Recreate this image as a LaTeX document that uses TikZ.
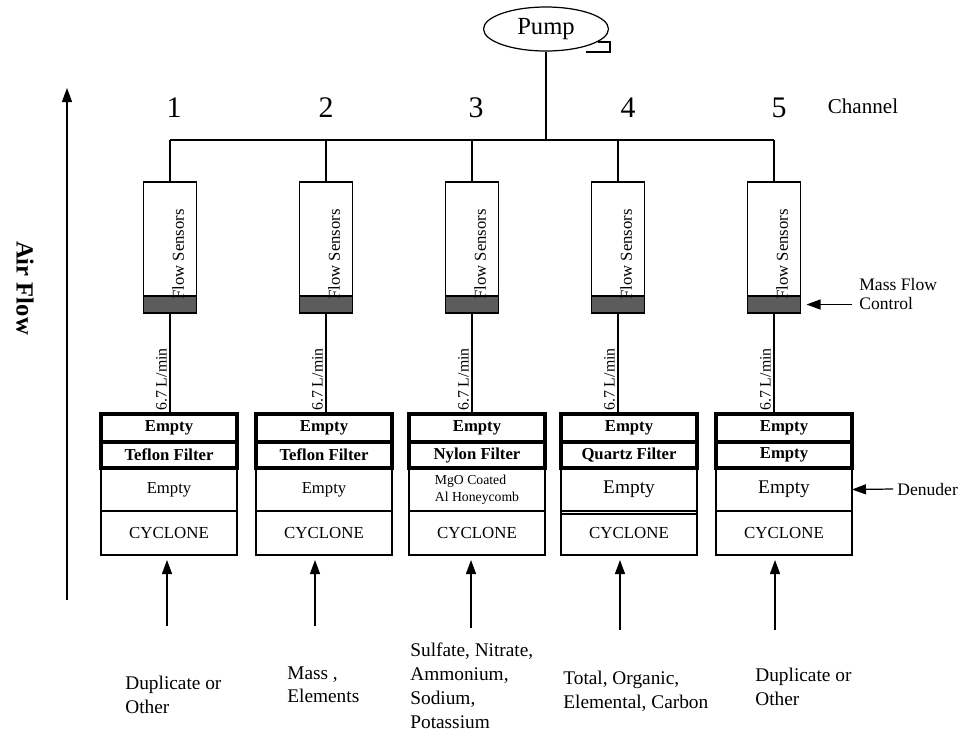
\documentclass[tikz,border=0pt]{standalone}
\usepackage{fontspec}
\setmainfont{Liberation Serif}
\usetikzlibrary{arrows.meta,shapes.geometric}
\definecolor{mfcgray}{RGB}{92,92,92}

\tikzset{
  wire/.style={line width=0.7pt},
  arr/.style={line width=0.7pt, -{Triangle[length=2.8mm,width=2mm]}},
  sensor/.style={draw, line width=0.7pt, minimum width=1.06cm, minimum height=2.28cm, inner sep=0pt, outer sep=0pt},
  mfc/.style={draw, fill=mfcgray, line width=0.7pt, minimum width=1.06cm, minimum height=0.34cm, inner sep=0pt, outer sep=0pt},
  fslbl/.style={rotate=90, anchor=north west, inner sep=0pt, font=\fontsize{9.5}{10}\selectfont},
  flowlbl/.style={pos=1, rotate=90, anchor=south west, inner sep=1.5pt, font=\fontsize{9}{10}\selectfont},
  thickbox/.style={draw, line width=2.2pt, minimum width=2.72cm, inner sep=0pt, outer sep=0pt, font=\fontsize{9.5}{10}\selectfont\bfseries},
  stage/.style={draw, line width=0.7pt, minimum width=2.72cm, inner sep=0pt, outer sep=0pt, align=left},
  chnum/.style={font=\fontsize{17}{20}\selectfont},
  side/.style={inner sep=0pt, align=left, font=\fontsize{10}{10.8}\selectfont},
  result/.style={anchor=north west, inner sep=0pt, align=left, font=\fontsize{11}{13.6}\selectfont},
}

\begin{document}
\begin{tikzpicture}[x=0.02cm, y=-0.02cm]
\useasboundingbox (0,0) rectangle (959,731);

% pump and manifold
\node[draw, ellipse, line width=0.7pt, minimum width=2.5cm, minimum height=0.88cm, inner sep=0pt,
      font=\fontsize{14}{16}\selectfont] (pump) at (546,29) {Pump};
\draw[wire] (598,42) -- (610,42) -- (610,52) -- (586,52);
\coordinate (bus1) at (170,140);
\coordinate (bus5) at (774,140);
\draw[wire] (bus1) -- (bus5);
\draw[wire] (pump.south) -- (pump.south |- bus1);
\node[font=\fontsize{12}{14}\selectfont] (chan) at (863,106) {Channel};

% flow sensors with mass flow control
\foreach \n/\lx/\nx in {1/170/174, 2/326/326, 3/472/476, 4/618/628, 5/774/779}{
  \coordinate (bus\n) at (\lx,140);
  \node[chnum] (num\n) at (\nx,108) {\n};
  \node[sensor] (sen\n) at (\lx,239) {};
  \node[mfc] (mfc\n) at (\lx,304.5) {};
  \node[fslbl] (fs\n) at ([shift={(0.04cm,-0.08cm)}]mfc\n.north) {Flow Sensors};
  \draw[wire] (bus\n) -- (sen\n.north);
}

% filter packs
\foreach \n/\bx/\filt/\fs/\midt in {1/169/Teflon Filter/9.5/Empty, 2/324/Teflon Filter/9.5/Empty,
    3/477/Nylon Filter/7.8/{MgO Coated\\Al Honeycomb}, 4/629/Quartz Filter/11/Empty, 5/784/Empty/11/Empty}{
  \node[stage, minimum height=0.86cm, font=\fontsize{\fs}{9.5}\selectfont] (mid\n) at (\bx,489.5) {\midt};
  \node[stage, minimum height=0.88cm, font=\fontsize{9.6}{11}\selectfont] (cyc\n) at (\bx,533) {CYCLONE};
  \node[thickbox, minimum height=0.56cm] (top\n) at (\bx,428) {Empty};
  \node[thickbox, minimum height=0.52cm] (fil\n) at (\bx,455) {\filt};
  \draw[wire] (mfc\n.south) -- (mfc\n.south |- top\n.north) node[flowlbl] {6.7 L/min};
}
\draw[line width=1.3pt] (mid1.south west) -- (mid1.south east);
\draw[line width=1.3pt] (mid2.south west) -- (mid2.south east);
\draw[wire] ([yshift=-0.06cm]mid4.south west) -- ([yshift=-0.06cm]mid4.south east);

% side notes
\node[side, anchor=west] (mfclbl) at (859,294) {Mass Flow\\Control};
\draw[arr] ([xshift=-0.14cm]mfclbl.west |- mfc5.east) -- ([xshift=0.12cm]mfc5.east);
\node[side, anchor=west] (den) at (897,489) {Denuder};
\draw[arr] ([xshift=-0.08cm]den.west) -- (mid5.east);

% air flow
\coordinate (afbot) at (67,600);
\coordinate (aftop) at (67,88);
\draw[arr] (afbot) -- (aftop);
\node[rotate=-90, font=\fontsize{14}{16}\selectfont\bfseries] (airflow) at (25,288) {Air Flow};

% inlets and species
\foreach \n/\ax/\ay in {1/167/626, 2/315/626, 3/471/628, 4/620/630, 5/775/630}{
  \coordinate (src\n) at (\ax,\ay);
  \draw[arr, shorten >=0.1cm] (src\n) -- (src\n |- cyc\n.south);
}
\node[result] (res1) at (125,676) {Duplicate or\\Other};
\node[result] (res2) at (287,666) {Mass ,\\Elements};
\node[result] (res3) at (410,643) {Sulfate, Nitrate,\\Ammonium,\\Sodium,\\Potassium};
\node[result] (res4) at (563,671) {Total, Organic,\\Elemental, Carbon};
\node[result] (res5) at (755,668) {Duplicate or\\Other};
\end{tikzpicture}
\end{document}
